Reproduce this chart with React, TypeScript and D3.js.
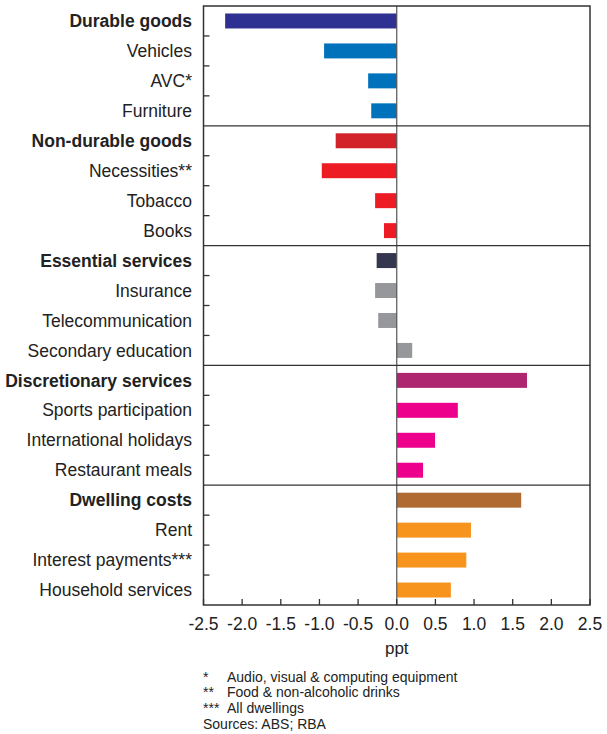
import React from "react";
import * as d3 from "d3";

const categories = [
  "Durable goods", "Vehicles", "AVC*", "Furniture",
  "Non-durable goods", "Necessities**", "Tobacco", "Books",
  "Essential services", "Insurance", "Telecommunication", "Secondary education",
  "Discretionary services", "Sports participation", "International holidays", "Restaurant meals",
  "Dwelling costs", "Rent", "Interest payments***", "Household services",
];
const values = [
  -2.22, -0.94, -0.37, -0.33,
  -0.79, -0.97, -0.28, -0.165,
  -0.26, -0.28, -0.24, 0.2,
  1.685, 0.79, 0.495, 0.34,
  1.61, 0.96, 0.9, 0.7,
];
const headerColors = ["#2e3192", "#d2232a", "#35364f", "#ae2570", "#b06b33"];
const itemColors = ["#0072bc", "#ed1c24", "#96979b", "#ec008c", "#f7941d"];
const xTicks = [-2.5, -2, -1.5, -1, -0.5, 0, 0.5, 1, 1.5, 2, 2.5];
const footnotes = [
  ["*", "Audio, visual & computing equipment"],
  ["**", "Food & non-alcoholic drinks"],
  ["***", "All dwellings"],
];
const sourceText = "Sources: ABS; RBA";

export default function App() {
  const W = 607, H = 734;
  const left = 203.5, right = 590, top = 6, bottom = 605;
  const x = d3.scaleLinear().domain([-2.5, 2.5]).range([left, right]);
  const y = d3.scaleBand<number>().domain(d3.range(categories.length)).range([top, bottom]).paddingInner(0.5).paddingOuter(0.25);
  const step = y.step();
  const font = "'Liberation Sans', Arial, sans-serif";
  const fmt = (t: number) => d3.format(".1f")(t).replace("\u2212", "-");
  return (
    <svg width={W} height={H} style={{ position: "absolute", left: 0, top: 0 }} fontFamily={font}>
      <rect width={W} height={H} fill="#fff" />
      {categories.map((c, i) => {
        const g = Math.floor(i / 4);
        const isHeader = i % 4 === 0;
        const v = values[i];
        return (
          <g key={c}>
            <rect x={x(Math.min(0, v))} y={y(i)!} width={Math.abs(x(v) - x(0))} height={y.bandwidth()}
              fill={isHeader ? headerColors[g] : itemColors[g]} />
            <text x={192} y={y(i)! + y.bandwidth() / 2} dy="0.35em" textAnchor="end" fontSize={17.5}
              fontWeight={isHeader ? "bold" : "normal"} fill="#222">{c}</text>
          </g>
        );
      })}
      <line x1={x(0)} x2={x(0)} y1={top} y2={bottom} stroke="#555" strokeWidth={1.2} />
      {[1, 2, 3, 4].map((k) => (
        <line key={k} x1={left} x2={right} y1={top + k * 4 * step} y2={top + k * 4 * step} stroke="#333" strokeWidth={1.3} />
      ))}
      {d3.range(1, categories.length).filter((k) => k % 4 !== 0).map((k) => (
        <line key={k} x1={left} x2={left + 6} y1={top + k * step} y2={top + k * step} stroke="#333" strokeWidth={1.3} />
      ))}
      {xTicks.map((t) => (
        <g key={t}>
          <line x1={x(t)} x2={x(t)} y1={bottom} y2={bottom - 6} stroke="#333" strokeWidth={1.3} />
          <text x={x(t)} y={624} dy="0.35em" textAnchor="middle" fontSize={17.5} fill="#222">{fmt(t)}</text>
        </g>
      ))}
      <rect x={left} y={top} width={right - left} height={bottom - top} fill="none" stroke="#333" strokeWidth={1.5} />
      <text x={x(0)} y={648} dy="0.35em" textAnchor="middle" fontSize={17} fill="#222">ppt</text>
      {footnotes.map(([m, t], i) => (
        <g key={m}>
          <text x={203} y={677 + i * 15.5} dy="0.35em" fontSize={14} fill="#222">{m}</text>
          <text x={227} y={677 + i * 15.5} dy="0.35em" fontSize={14} fill="#222">{t}</text>
        </g>
      ))}
      <text x={203} y={724} dy="0.35em" fontSize={14} fill="#222">{sourceText}</text>
    </svg>
  );
}
